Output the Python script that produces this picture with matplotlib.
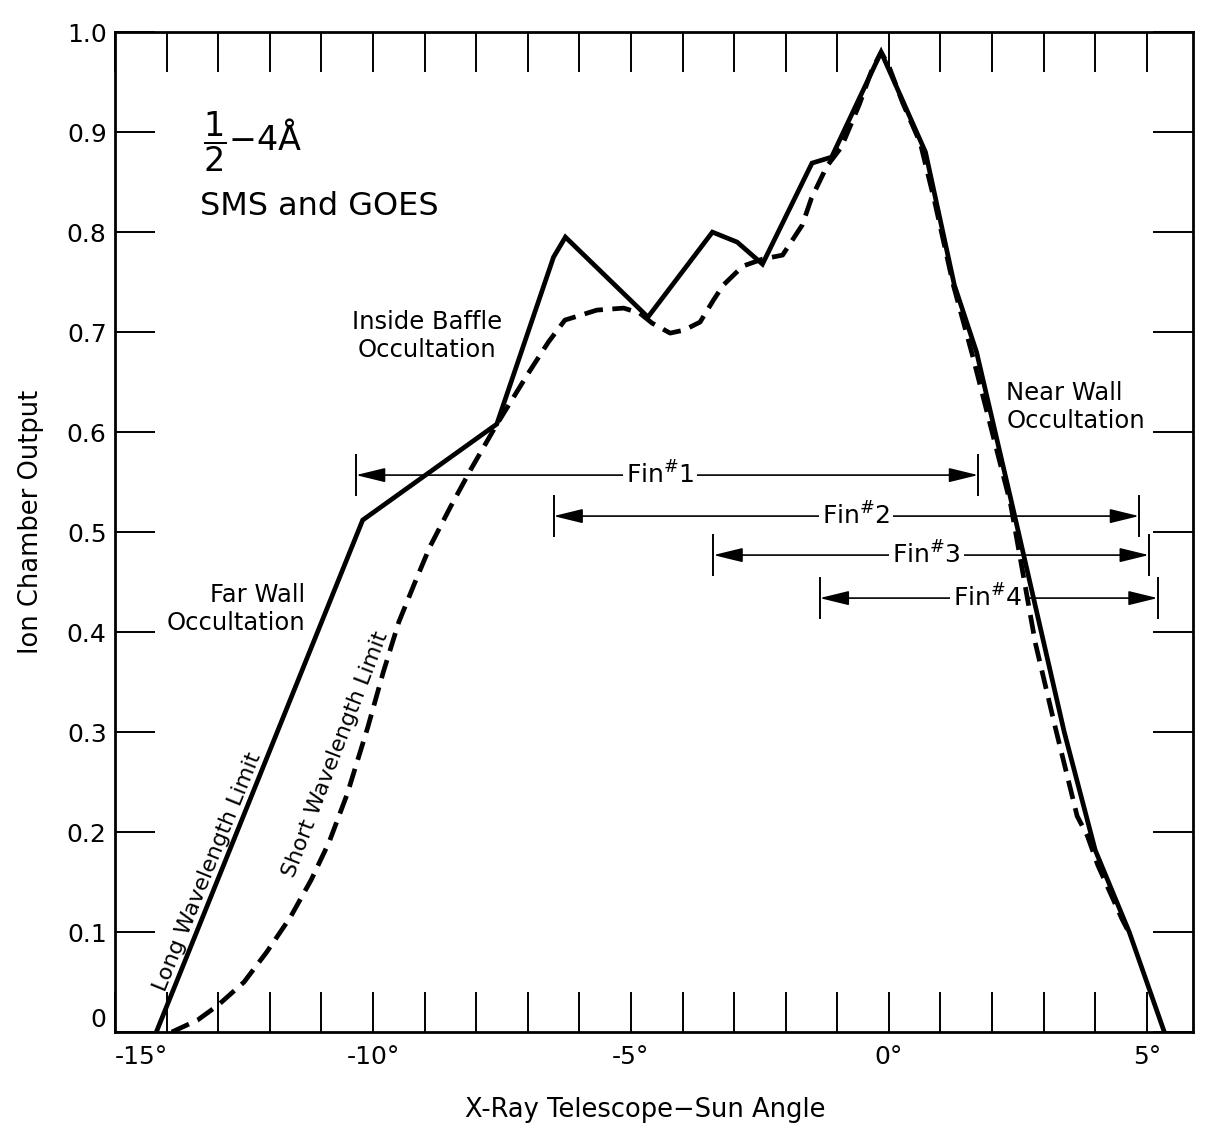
import matplotlib
matplotlib.use('Agg')
import matplotlib.pyplot as plt
from matplotlib.ticker import FixedLocator, FuncFormatter

# long wavelength limit (solid curve)
long_x = [-14.2, -10.2, -7.6, -6.5, -6.27, -4.67, -3.42, -2.94, -2.45, -1.49,
          -1.11, -0.15, 0.71, 1.27, 1.7, 2.4, 3.4, 4.0, 4.66, 5.34]
long_y = [0.0, 0.512, 0.608, 0.775, 0.795, 0.715, 0.80, 0.79, 0.768, 0.869,
          0.875, 0.98, 0.88, 0.747, 0.68, 0.525, 0.30, 0.182, 0.10, 0.0]

# short wavelength limit (dashed curve)
short_x = [-13.9, -13.4, -13.0, -12.5, -12.06, -11.6, -11.2, -10.85, -10.5, -10.1,
           -9.8, -9.5, -9.2, -8.9, -8.5, -8.1, -7.62, -7.0, -6.6, -6.28,
           -5.66, -5.14, -4.83, -4.59, -4.24, -3.97, -3.66, -3.40, -3.21, -2.83,
           -2.45, -2.06, -1.68, -1.50, -1.20, -0.92, -0.57, -0.33, -0.15, 0.0,
           0.27, 0.61, 0.89, 1.25, 1.62, 2.36, 2.84, 3.22, 3.65, 3.85,
           4.05, 4.52, 4.65]
short_y = [0.0, 0.012, 0.027, 0.05, 0.08, 0.115, 0.152, 0.19, 0.238, 0.305,
           0.36, 0.41, 0.448, 0.485, 0.525, 0.563, 0.606, 0.658, 0.69, 0.712,
           0.722, 0.724, 0.719, 0.709, 0.699, 0.702, 0.71, 0.732, 0.747, 0.766,
           0.773, 0.777, 0.807, 0.834, 0.866, 0.885, 0.928, 0.962, 0.98, 0.966,
           0.929, 0.889, 0.830, 0.747, 0.677, 0.528, 0.389, 0.306, 0.216, 0.196,
           0.167, 0.113, 0.10]

# fin field-of-view bars
fin_names = ['1', '2', '3', '4']
fin_left = [-10.33, -6.50, -3.40, -1.34]
fin_right = [1.73, 4.85, 5.04, 5.21]
fin_level = [0.557, 0.516, 0.477, 0.434]
fin_text_x = [-4.44, -0.64, 0.73, 1.91]

x_ticks = list(range(-15, 6))
x_tick_labels = {-15: '-15°', -10: '-10°', -5: '-5°', 0: '0°', 5: '5°'}
y_ticks = [0, 0.1, 0.2, 0.3, 0.4, 0.5, 0.6, 0.7, 0.8, 0.9, 1.0]
y_tick_labels = ['0', '0.1', '0.2', '0.3', '0.4', '0.5', '0.6', '0.7', '0.8', '0.9', '1.0']

fig = plt.figure(figsize=(12.06, 11.35), dpi=100)
ax = fig.add_axes([0.0954, 0.0907, 0.894, 0.881])

ax.plot(long_x, long_y, color='black', lw=3.4, solid_joinstyle='miter', zorder=4)
ax.plot(short_x, short_y, color='black', lw=3.4, dashes=(4, 2), zorder=4)

# fins
for name, xl, xr, yv, xt in zip(fin_names, fin_left, fin_right, fin_level, fin_text_x):
    for xe in (xl, xr):
        ax.annotate('', xy=(xe, yv), xytext=(xt, yv),
                    arrowprops=dict(arrowstyle='-|>,head_length=0.9,head_width=0.22',
                                    color='black', lw=1.2, shrinkA=0, shrinkB=0,
                                    mutation_scale=20))
        ax.plot([xe, xe], [yv - 0.02, yv + 0.02], color='black', lw=1.4)
    ax.text(xt, yv, 'Fin$^{\\#}$' + name, fontsize=18, ha='center', va='center',
            bbox=dict(facecolor='white', edgecolor='none', pad=2), zorder=3)

# labels
ax.text(-13.3, 0.89, '$\\dfrac{1}{2}$\u22124\u00c5', fontsize=24, ha='left', va='center')
ax.text(-13.36, 0.826, 'SMS and GOES', fontsize=23, ha='left', va='center')
ax.text(-8.95, 0.696, 'Inside Baffle\nOccultation', fontsize=17.5, ha='center',
        va='center', linespacing=1.2)
ax.text(-11.32, 0.423, 'Far Wall\nOccultation', fontsize=17.5, ha='right',
        va='center', multialignment='right', linespacing=1.2)
ax.text(2.28, 0.625, 'Near Wall\nOccultation', fontsize=17.5, ha='left',
        va='center', linespacing=1.2)
ax.text(-13.2, 0.16, 'Long Wavelength Limit', fontsize=16, rotation=68,
        ha='center', va='center', rotation_mode='anchor')
ax.text(-10.73, 0.278, 'Short Wavelength Limit', fontsize=16, rotation=69,
        ha='center', va='center', rotation_mode='anchor')

ax.set_xlim(-15, 5.9)
ax.set_ylim(0, 1.0)
ax.xaxis.set_major_locator(FixedLocator(x_ticks))
ax.xaxis.set_major_formatter(FuncFormatter(lambda v, p: x_tick_labels.get(int(round(v)), '')))
ax.yaxis.set_major_locator(FixedLocator(y_ticks))
ax.set_yticklabels(y_tick_labels)

ax.tick_params(axis='both', which='major', direction='in', length=29, width=1.4,
               top=True, right=True, labelsize=18)
ax.tick_params(axis='x', pad=9)
ax.tick_params(axis='y', pad=6)
ax.get_yticklabels()[0].set_va('bottom')
ax.get_xticklabels()[0].set_ha('left')
for s in ax.spines.values():
    s.set_linewidth(2.0)

ax.set_xlabel('X-Ray Telescope\u2212Sun Angle', fontsize=18.5, va='center')
ax.xaxis.set_label_coords(0.492, -0.078)
ax.set_ylabel('Ion Chamber Output', fontsize=18.5, va='center')
ax.yaxis.set_label_coords(-0.078, 0.51)

fig.savefig('out.png', dpi=100)
